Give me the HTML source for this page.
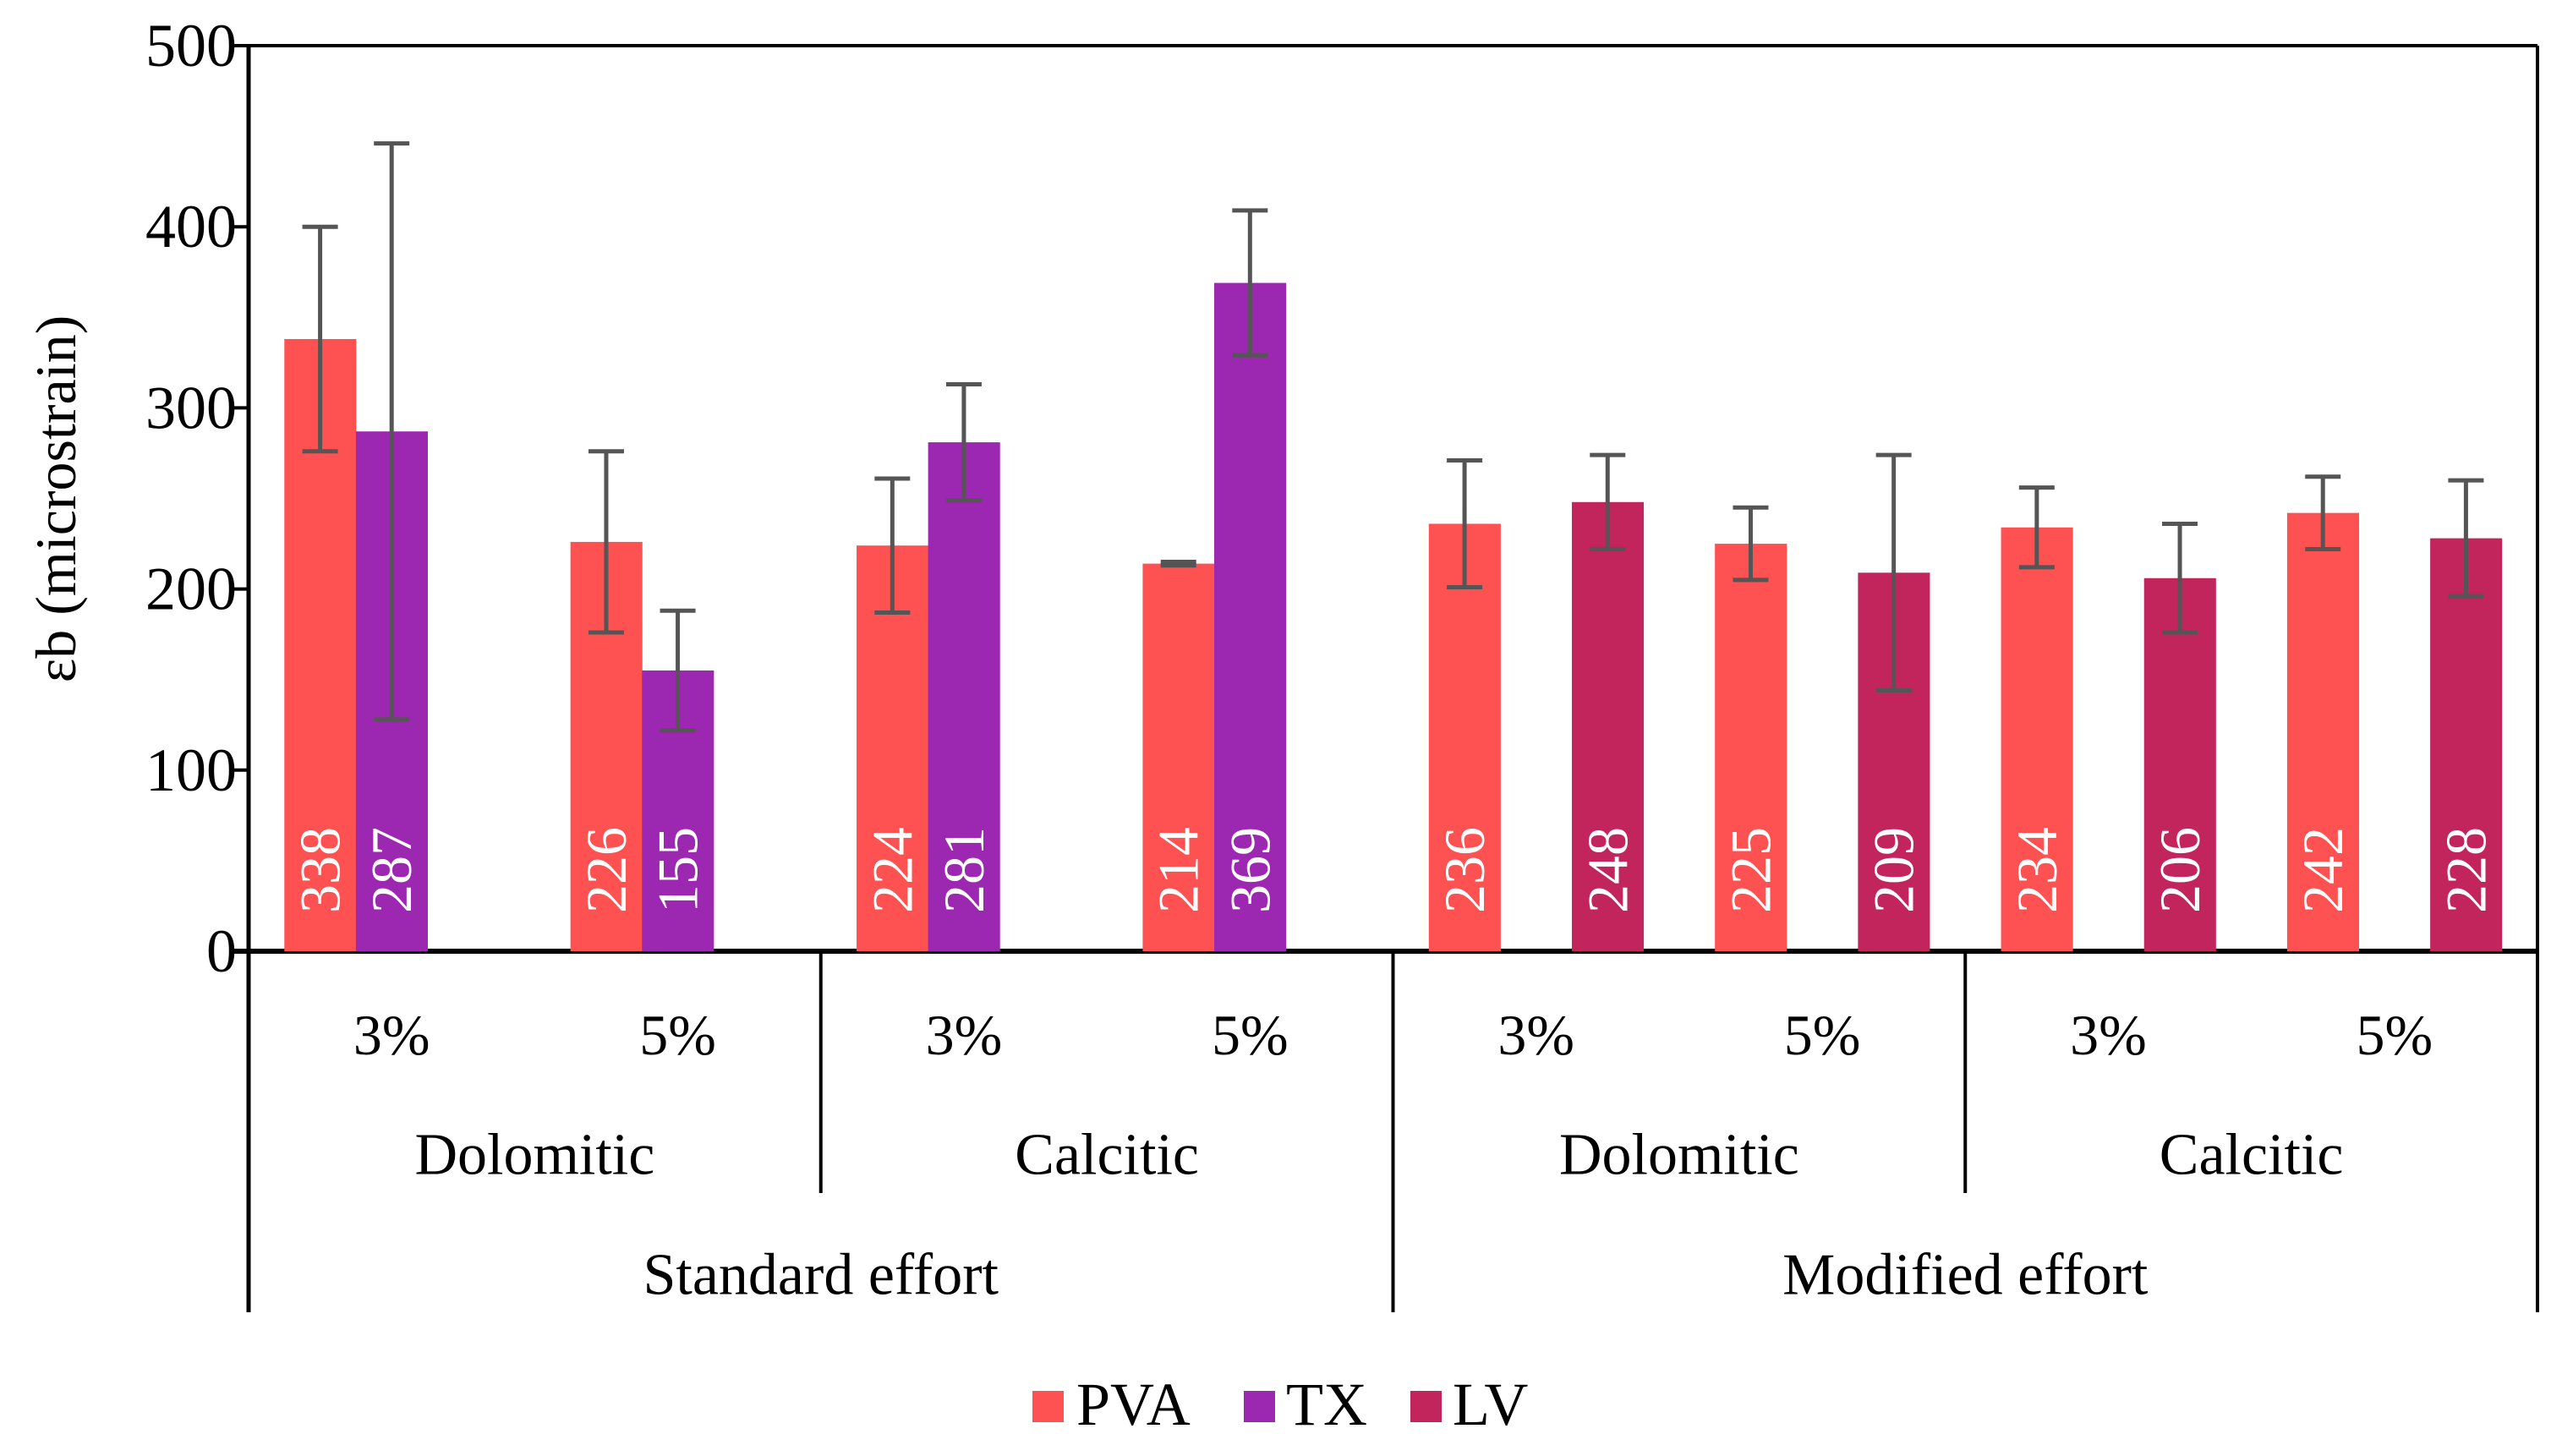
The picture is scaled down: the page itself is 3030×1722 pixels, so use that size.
<!DOCTYPE html>
<html><head><meta charset="utf-8">
<style>
html,body{margin:0;padding:0;background:#fff;}
svg, svg text{font-family:"Liberation Serif","DejaVu Serif",serif;}
</style></head>
<body>
<svg id="chart" width="3030" height="1717" viewBox="0 0 3030 1717" xmlns="http://www.w3.org/2000/svg" font-family="Liberation Serif, serif">
<g id="grid"></g>
<g id="bars"></g>
<g id="labels"></g>
<text x="66" y="590" font-size="68" text-anchor="middle" transform="rotate(-90 66 590)" dominant-baseline="central">εb (microstrain)</text>
<g>
<rect x="1221" y="1645" width="37" height="37" fill="#fe5151"/>
<text x="1273" y="1685" font-size="72">PVA</text>
<rect x="1471" y="1645" width="37" height="37" fill="#9c27b0"/>
<text x="1521" y="1685" font-size="72">TX</text>
<rect x="1668" y="1645" width="37" height="37" fill="#c2255c"/>
<text x="1718" y="1685" font-size="72">LV</text>
</g>
</svg>
<script>
const categories = ["3%","5%","3%","5%","3%","5%","3%","5%"];
const materials = ["Dolomitic","Calcitic","Dolomitic","Calcitic"];
const efforts = ["Standard effort","Modified effort"];
const pvaValues = [338,226,224,214,236,225,234,242];
const pvaErrors = [62,50,37,1,35,20,22,20];
const txValues = [287,155,281,369,null,null,null,null];
const txErrors = [159,33,32,40,null,null,null,null];
const lvValues = [null,null,null,null,248,209,206,228];
const lvErrors = [null,null,null,null,26,65,30,32];
const yTicks = [0,100,200,300,400,500];

const NS="http://www.w3.org/2000/svg";
const X0=294, X1=3001, Y0=1125, YTOP=54, YMAX=500;
const catW=(X1-X0)/categories.length;
const slotW=catW*0.25;
function yScale(v){return Y0-(v/YMAX)*(Y0-YTOP);}
function xSlot(ci,si){return X0+ci*catW+catW*0.125+si*slotW;}
function el(tag,attrs,parent,text){const e=document.createElementNS(NS,tag);for(const k in attrs)e.setAttribute(k,attrs[k]);if(text!==undefined)e.textContent=text;parent.appendChild(e);return e;}
const grid=document.getElementById('grid'), bars=document.getElementById('bars'), labels=document.getElementById('labels');

let a=el('line',{x1:X0,y1:YTOP,x2:X0,y2:1552,stroke:'#000','stroke-width':5},grid);


a=el('line',{x1:X0-20,y1:YTOP,x2:X1,y2:YTOP,stroke:'#000','stroke-width':4},grid);


a=el('line',{x1:X1,y1:YTOP,x2:X1,y2:1552,stroke:'#000','stroke-width':4},grid);


yTicks.forEach(t=>{
  const y=yScale(t);
  const l=el('line',{x1:X0-20,y1:y,x2:X0,y2:y,stroke:'#000','stroke-width':4},grid);
  
  
  const tx=el('text',{x:280,y:y,'font-size':72,'text-anchor':'end','dominant-baseline':'central'},labels,String(t));
  
  
});
for(let i=1;i<categories.length;i++){
  if(i%2!==0) continue;
  const x=X0+i*catW;
  const long=(i%4===0);
  const l=el('line',{x1:x,y1:Y0,x2:x,y2:long?1552:1411,stroke:'#000','stroke-width':4},grid);
  
  
}
const series=[
 {name:'pva',vals:pvaValues,errs:pvaErrors,color:'#fe5151',slot:0},
 {name:'tx',vals:txValues,errs:txErrors,color:'#9c27b0',slot:1},
 {name:'lv',vals:lvValues,errs:lvErrors,color:'#c2255c',slot:2}];
series.forEach(s=>{
  s.vals.forEach((v,ci)=>{
    if(v===null) return;
    const x=xSlot(ci,s.slot), y=yScale(v);
    const r=el('rect',{x:x,y:y,width:slotW+0.5,height:Y0-y,fill:s.color},bars);
    
    
    const cx=x+slotW/2, e=s.errs[ci];
    const g=el('g',{stroke:'#555','stroke-width':5},bars);
    
    
    el('line',{x1:cx,y1:yScale(v+e),x2:cx,y2:yScale(v-e)},g);
    el('line',{x1:cx-21,y1:yScale(v+e),x2:cx+21,y2:yScale(v+e)},g);
    el('line',{x1:cx-21,y1:yScale(v-e),x2:cx+21,y2:yScale(v-e)},g);
    const tx=el('text',{x:cx,y:1080,'font-size':68,fill:'#fff','dominant-baseline':'central',transform:'rotate(-90 '+cx+' 1080)'},bars,String(v));
    
    
  });
});
categories.forEach((c,i)=>{
  const t=el('text',{x:X0+(i+0.5)*catW,y:1224,'font-size':68,'text-anchor':'middle','dominant-baseline':'central'},labels,c);
  
  
});
materials.forEach((m,i)=>{
  const t=el('text',{x:X0+(i+0.5)*2*catW,y:1366,'font-size':70,'text-anchor':'middle','dominant-baseline':'central'},labels,m);
  
  
});
efforts.forEach((m,i)=>{
  const t=el('text',{x:X0+(i+0.5)*4*catW,y:1508,'font-size':70,'text-anchor':'middle','dominant-baseline':'central'},labels,m);
  
  
});
a=el('line',{x1:X0-20,y1:Y0,x2:X1,y2:Y0,stroke:'#000','stroke-width':6},grid);


</script>
</body></html>
